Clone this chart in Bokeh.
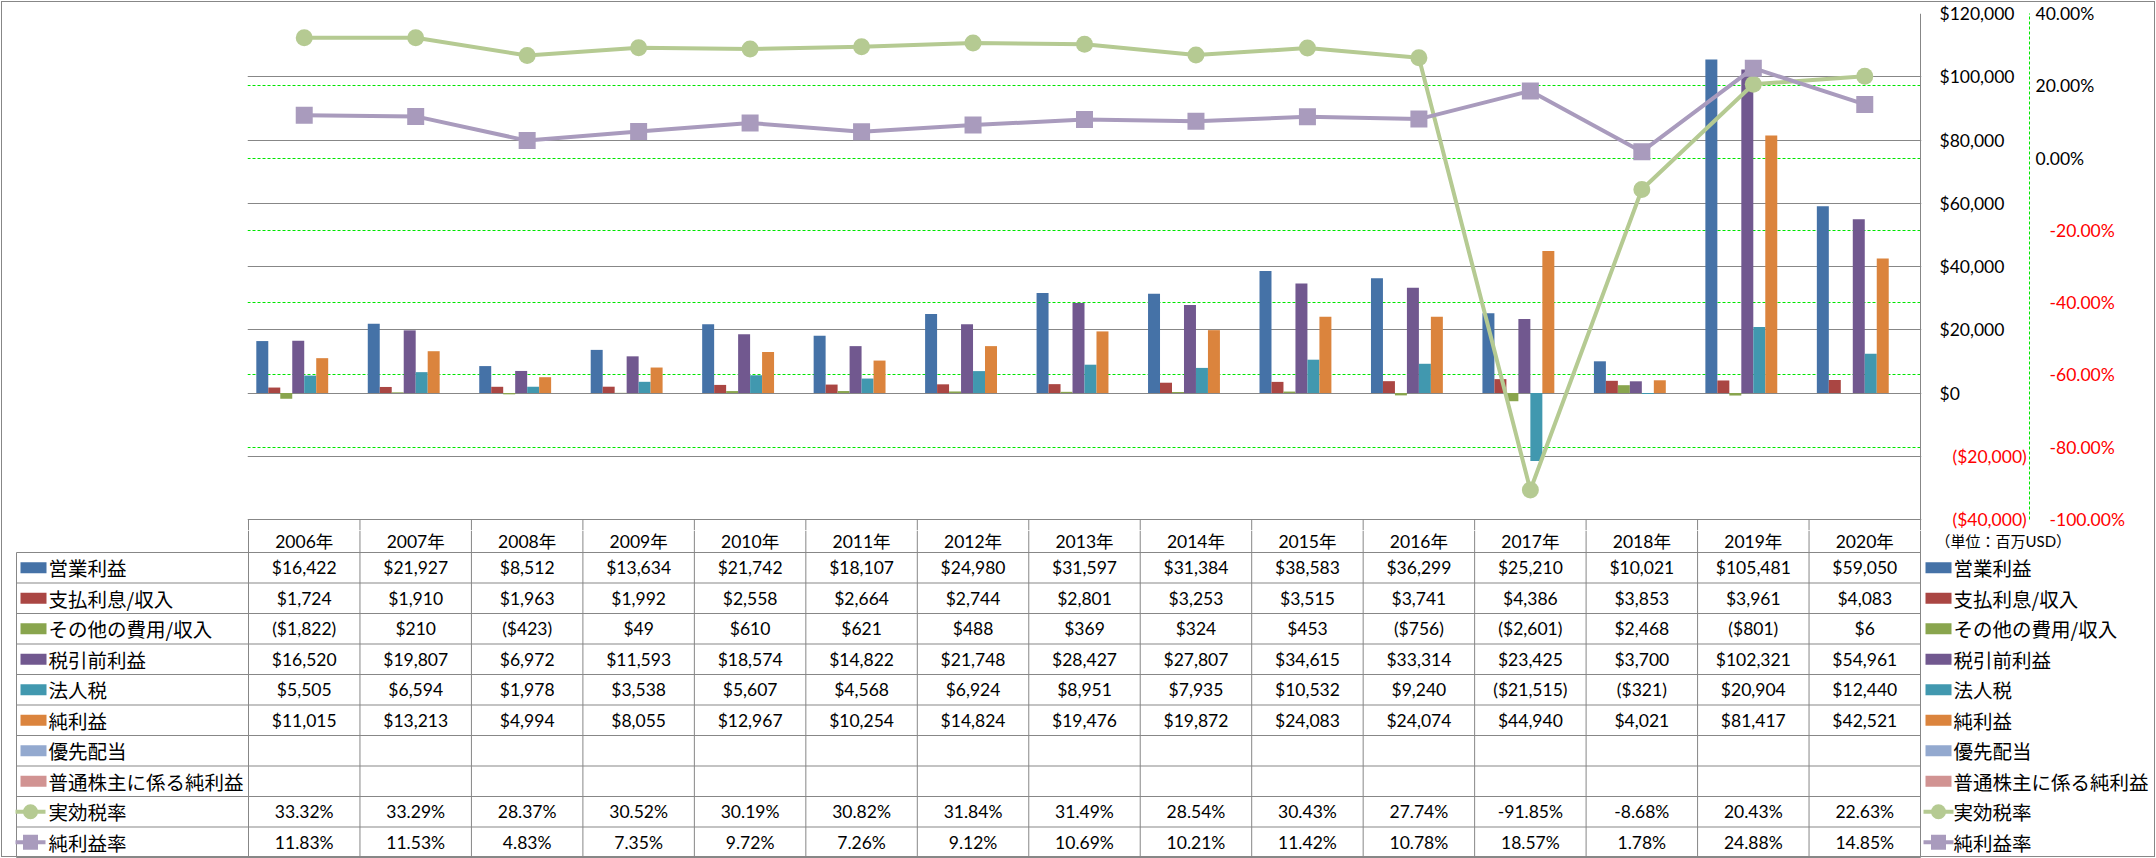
from bokeh.plotting import figure
from bokeh.models import (Range1d, LinearAxis, FixedTicker, CustomJSTickFormatter,
                          Grid, ColumnDataSource)
from bokeh.layouts import column
from bokeh.transform import dodge
from bokeh.core.properties import value
from bokeh.embed import file_html
from bokeh.resources import INLINE

# ---------------- data ----------------
years = ["2006年", "2007年", "2008年", "2009年", "2010年", "2011年", "2012年", "2013年",
         "2014年", "2015年", "2016年", "2017年", "2018年", "2019年", "2020年"]
op_income = [16422, 21927, 8512, 13634, 21742, 18107, 24980, 31597, 31384, 38583,
             36299, 25210, 10021, 105481, 59050]
interest = [1724, 1910, 1963, 1992, 2558, 2664, 2744, 2801, 3253, 3515,
            3741, 4386, 3853, 3961, 4083]
other_exp = [-1822, 210, -423, 49, 610, 621, 488, 369, 324, 453,
             -756, -2601, 2468, -801, 6]
pretax = [16520, 19807, 6972, 11593, 18574, 14822, 21748, 28427, 27807, 34615,
          33314, 23425, 3700, 102321, 54961]
income_tax = [5505, 6594, 1978, 3538, 5607, 4568, 6924, 8951, 7935, 10532,
              9240, -21515, -321, 20904, 12440]
net_income = [11015, 13213, 4994, 8055, 12967, 10254, 14824, 19476, 19872, 24083,
              24074, 44940, 4021, 81417, 42521]
pref_div = [None] * 15
common_ni = [None] * 15
eff_tax_rate = [33.32, 33.29, 28.37, 30.52, 30.19, 30.82, 31.84, 31.49, 28.54, 30.43,
                27.74, -91.85, -8.68, 20.43, 22.63]
net_margin = [11.83, 11.53, 4.83, 7.35, 9.72, 7.26, 9.12, 10.69, 10.21, 11.42,
              10.78, 18.57, 1.78, 24.88, 14.85]

bar_names = ["営業利益", "支払利息/収入", "その他の費用/収入", "税引前利益", "法人税",
             "純利益", "優先配当", "普通株主に係る純利益"]
bar_values = [op_income, interest, other_exp, pretax, income_tax, net_income, pref_div, common_ni]
bar_colors = ["#4572A7", "#AA4643", "#89A54E", "#71588F", "#4198AF", "#DB843D", "#93A9CF", "#D19392"]
line_names = ["実効税率", "純利益率"]
line_values = [eff_tax_rate, net_margin]
line_colors = ["#B5CA92", "#A99BBD"]
line_markers = ["circle", "square"]

usd_ticks = [-40000, -20000, 0, 20000, 40000, 60000, 80000, 100000, 120000]
pct_ticks = [-1.0, -0.8, -0.6, -0.4, -0.2, 0.0, 0.2, 0.4]
unit_note = "（単位：百万USD）"

# ---------------- layout constants ----------------
NUM_FONT = "Lato"
MIX_FONT = "Lato, Noto Sans CJK JP"
JP_FONT = "Noto Sans CJK JP"
NUM_FS = "17.5px"
JP_FS = "19.5px"
GRAY = "#878787"
GREEN = "#00E600"
W = 2156
H = 858
N = len(years)
CW = 1672 / N          # category width in px
FL = 247               # frame left of chart figure
FR = W - FL - 1674     # right border of chart figure (axes live here)
PT = 13                # top border
PH = 506               # plot height (USD -40k..120k)
HA = 11                # part of the header row drawn in chart figure
HB = 22                # part of the header row drawn in table figure
A_H = PT + PH + HA
RH = 30.5              # table row height
NR = 10
B_H = H - A_H
X0 = 248               # left edge of first category column
TL = 16                # table left edge
TR = X0 + 1672         # table right edge
USD_LO, USD_HI = usd_ticks[0], usd_ticks[-1]
PCT_LO, PCT_HI = pct_ticks[0], pct_ticks[-1]
usd_per_px = (USD_HI - USD_LO) / PH
pct_per_px = (PCT_HI - PCT_LO) / PH


def fmt_usd(v):
    if v is None:
        return ""
    return f"(${-v:,})" if v < 0 else f"${v:,}"


def fmt_pct(v):
    return f"{v:.2f}%"


# ---------------- chart figure ----------------
pA = figure(width=W, height=A_H,
            x_range=Range1d(-0.5 - 1 / CW, N - 0.5 + 1 / CW),
            y_range=Range1d(USD_LO - HA * usd_per_px, USD_HI),
            x_axis_location=None, y_axis_location=None,
            toolbar_location=None, output_backend="svg",
            min_border_left=FL, min_border_right=FR,
            min_border_top=PT, min_border_bottom=0,
            outline_line_color=None, frame_align=False,
            background_fill_color=None, border_fill_color=None)
pA.grid.visible = False
pA.extra_y_ranges = {"pct": Range1d(PCT_LO - HA * pct_per_px, PCT_HI)}

pA.add_layout(Grid(dimension=1, ticker=FixedTicker(ticks=pct_ticks[1:-1]), y_range_name="pct",
                   grid_line_color=GREEN, grid_line_dash="3 2", grid_line_width=1))
pA.add_layout(Grid(dimension=1, ticker=FixedTicker(ticks=usd_ticks),
                   grid_line_color=GRAY, grid_line_width=1))

COMMA = r'.toString().replace(/\B(?=(\d{3})+(?!\d))/g, ",")'
usd_pos_fmt = CustomJSTickFormatter(code='if (tick < 0) return ""; return "$" + Math.round(tick)' + COMMA + ';')
usd_neg_fmt = CustomJSTickFormatter(code='if (tick >= 0) return ""; return "($" + Math.round(-tick)' + COMMA + ' + ")";')
pct_pos_fmt = CustomJSTickFormatter(code='if (tick < -1e-9) return ""; return (tick * 100).toFixed(2) + "%";')
pct_neg_fmt = CustomJSTickFormatter(code='if (tick >= -1e-9) return ""; return (tick * 100).toFixed(2) + "%";')


def make_axis(fmt, ticks, bounds, color, standoff, rng="default", line_color=None):
    ax = LinearAxis(y_range_name=rng, ticker=FixedTicker(ticks=ticks), formatter=fmt, bounds=bounds,
                    axis_line_color=line_color, axis_line_dash="3 2", axis_line_width=1,
                    major_tick_line_color=None, minor_tick_line_color=None,
                    major_tick_out=0, major_tick_in=0, major_label_standoff=standoff,
                    major_label_text_font=NUM_FONT, major_label_text_font_size=NUM_FS,
                    major_label_text_color=color)
    pA.add_layout(ax, "right")
    return ax


# black labels for >= 0; red labels for negatives share the same column (negative standoff)
make_axis(usd_pos_fmt, usd_ticks, (USD_LO, USD_HI), "black", 18)
make_axis(usd_neg_fmt, usd_ticks, (USD_LO, USD_HI), "#FF0000", -65)
make_axis(pct_pos_fmt, pct_ticks, (PCT_LO, PCT_HI), "black", 6, "pct", GREEN)
make_axis(pct_neg_fmt, pct_ticks, (PCT_LO, PCT_HI), "#FF0000", -48, "pct")

src = ColumnDataSource(dict(
    x=list(range(N)),
    b0=op_income, b1=interest, b2=other_exp, b3=pretax, b4=income_tax, b5=net_income,
    b6=[float("nan") if v is None else v for v in pref_div],
    b7=[float("nan") if v is None else v for v in common_ni],
    l0=[v / 100 for v in eff_tax_rate], l1=[v / 100 for v in net_margin],
))
BAR_W = 0.86 / len(bar_names)
for k, color in enumerate(bar_colors):
    pA.vbar(x=dodge("x", (k - 3.5) * BAR_W, range=pA.x_range), top=f"b{k}", bottom=0,
            width=BAR_W, source=src, fill_color=color, line_color=None)

for k in range(2):
    pA.line("x", f"l{k}", source=src, y_range_name="pct", line_color=line_colors[k],
            line_width=4, line_join="round")
    pA.scatter("x", f"l{k}", source=src, y_range_name="pct", marker=line_markers[k],
               size=17, fill_color=line_colors[k], line_color=None)

# plot right border and top part of header-row cell borders
y_a_bot = USD_LO - HA * usd_per_px
pA.segment(x0=[N - 0.5], y0=[USD_HI], x1=[N - 0.5], y1=[y_a_bot], line_color=GRAY, line_width=1)
vx = [k - 0.5 for k in range(N)]
pA.segment(x0=vx, y0=[USD_LO] * N, x1=vx, y1=[y_a_bot] * N, line_color=GRAY, line_width=1)

# ---------------- table figure ----------------
pB = figure(width=W, height=B_H,
            x_range=Range1d(-0.5 - X0 / CW, N - 0.5 + (W - X0 - 1672) / CW),
            y_range=Range1d((B_H - HB) / RH, -HB / RH),
            x_axis_location=None, y_axis_location=None,
            toolbar_location=None, output_backend="svg",
            min_border=0, min_border_left=0, min_border_right=0,
            min_border_top=0, min_border_bottom=0,
            outline_line_color=None, frame_align=False,
            background_fill_color=None, border_fill_color=None)
pB.grid.visible = False
pB.extra_x_ranges = {"px": Range1d(0, W)}

y_top = -HB / RH
pB.segment(x0=[TL] * (NR + 1), y0=list(range(NR + 1)), x1=[TR] * (NR + 1), y1=list(range(NR + 1)),
           x_range_name="px", line_color=GRAY, line_width=1)
vx = [k - 0.5 for k in range(N + 1)]
pB.segment(x0=vx, y0=[y_top] * (N + 1), x1=vx, y1=[NR] * (N + 1), line_color=GRAY, line_width=1)
pB.segment(x0=[TL], y0=[0], x1=[TL], y1=[NR], x_range_name="px", line_color=GRAY, line_width=1)

# header row: category names
pB.text(x=list(range(N)), y=[-(HB - 11) / RH] * N, text=years,
        text_align="center", text_baseline="middle", text_color="black",
        text_font=value(MIX_FONT), text_font_size=NUM_FS)
# unit note
pB.text(x=[1935], y=[-(HB - 10) / RH], text=[unit_note], x_range_name="px",
        text_align="left", text_baseline="middle", text_color="black",
        text_font=value(MIX_FONT), text_font_size="15px")

tx, ty, tt = [], [], []
for r, vals in enumerate(bar_values):
    for i, v in enumerate(vals):
        if v is not None:
            tx.append(i); ty.append(r + 0.5); tt.append(fmt_usd(v))
for r, vals in enumerate(line_values):
    for i, v in enumerate(vals):
        tx.append(i); ty.append(8 + r + 0.5); tt.append(fmt_pct(v))
pB.text(x=tx, y=ty, text=tt, text_align="center", text_baseline="middle", text_color="black",
        text_font=value(NUM_FONT), text_font_size=NUM_FS)

# legend keys (left inside table, right outside)
all_names = bar_names + line_names
for x_sw, x_txt, x_ln0, x_ln1, x_mk in [(33, 48, 15, 45, 30), (1938, 1953, 1923, 1953, 1938)]:
    pB.rect(x=[x_sw] * 8, y=[r + 0.5 for r in range(8)], width=26, height=11,
            height_units="screen", x_range_name="px", fill_color=bar_colors, line_color=None)
    for k in range(2):
        yy = 8 + k + 0.5
        pB.segment(x0=[x_ln0], y0=[yy], x1=[x_ln1], y1=[yy], x_range_name="px",
                   line_color=line_colors[k], line_width=4)
        pB.scatter(x=[x_mk], y=[yy], x_range_name="px", marker=line_markers[k], size=15,
                   fill_color=line_colors[k], line_color=None)
    pB.text(x=[x_txt] * 10, y=[r + 0.5 for r in range(10)], text=all_names, x_range_name="px",
            text_align="left", text_baseline="middle", text_color="black",
            text_font=value(JP_FONT), text_font_size=JP_FS)

layout = column(pA, pB, spacing=0,
                styles={"outline": "1px solid #878787", "outline-offset": "-2px",
                        "background-color": "white"})
open("out.html", "w").write(file_html(layout, INLINE))
